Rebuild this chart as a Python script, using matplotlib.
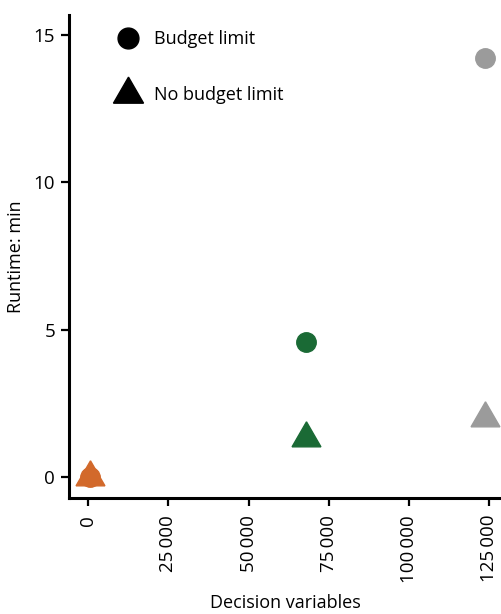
#!/usr/bin/env python3

import matplotlib
matplotlib.use('Agg')
from matplotlib import pyplot as plt
from matplotlib.lines import Line2D
from matplotlib.ticker import FuncFormatter

# runtime per instance size, with and without a budget limit
decision_vars = [500, 67800, 123700]
runtime_budget = [0.0, 4.58, 14.21]
runtime_no_budget = [0.0, 1.31, 1.99]
point_colors = ['#D2692B', '#1A6A35', '#9B9B9B']

xticks = [0, 25000, 50000, 75000, 100000, 125000]
yticks = [0, 5, 10, 15]

plt.rcParams['font.family'] = ['Open Sans', 'DejaVu Sans']
plt.rcParams['font.size'] = 13

fig = plt.figure(figsize=(5.02, 6.14), dpi=100)
ax = fig.add_axes([0.1375, 0.1885, 0.8625, 0.787])

tri = (3, 0, 0)
for x, yb, yn, c in zip(decision_vars, runtime_budget, runtime_no_budget, point_colors):
    ax.plot(x, yb, marker='o', markersize=14, color=c, linestyle='None', zorder=3)
    ax.plot(x, yn, marker=tri, markersize=24, color=c, linestyle='None', zorder=4)

ax.set_xlim(-6000, 128960)
ax.set_ylim(-0.73, 15.68)
ax.set_xticks(xticks)
ax.set_yticks(yticks)
ax.xaxis.set_major_formatter(FuncFormatter(lambda v, p: '{:,}'.format(int(v)).replace(',', '\u2009')))
ax.tick_params(axis='x', labelrotation=90, pad=6)
ax.tick_params(axis='y', pad=4)
ax.tick_params(length=6, width=1.6, labelsize=13.5)

for side in ['top', 'right']:
    ax.spines[side].set_visible(False)
for side in ['left', 'bottom']:
    ax.spines[side].set_linewidth(2.2)

ax.set_xlabel('Decision variables', fontsize=13, labelpad=8)
ax.set_ylabel('Runtime: min', fontsize=13, labelpad=6)

handles = [
    Line2D([], [], marker='o', markersize=15, color='black', linestyle='None', label='Budget limit'),
    Line2D([], [], marker=tri, markersize=25, color='black', linestyle='None', label='No budget limit'),
]
ax.legend(handles=handles, loc='upper left', bbox_to_anchor=(0.058, 1.0), frameon=False,
          fontsize=13, labelspacing=2.1, handletextpad=0.45, borderaxespad=0.45)

plt.savefig('out.png', dpi=100)
